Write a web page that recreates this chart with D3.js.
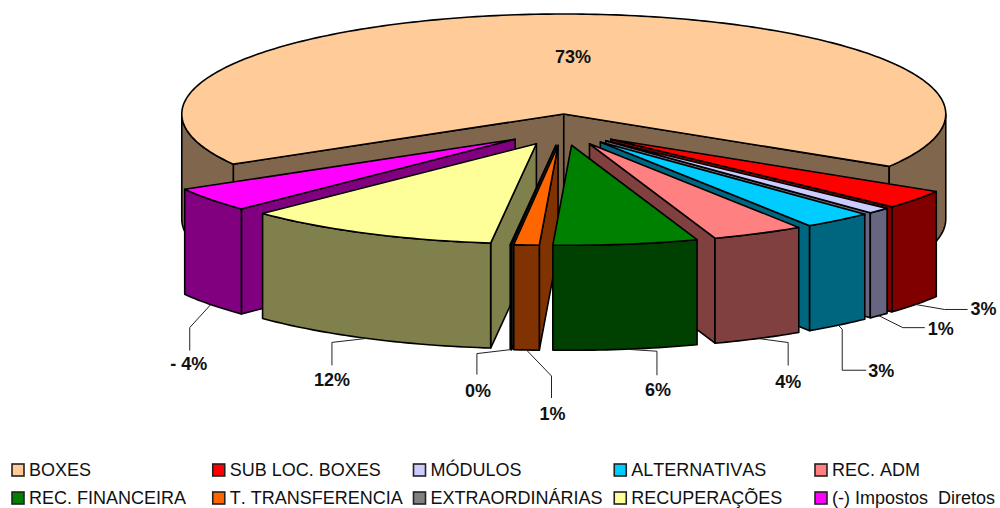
<!DOCTYPE html>
<html>
<head>
<meta charset="utf-8">
<script src="https://cdn.jsdelivr.net/npm/d3@7"></script>
<style>
  body { margin: 0; background: #fff; }
  text { font-family: "Liberation Sans", Arial, sans-serif; fill: #111; white-space: pre; font-kerning: none; }
</style>
</head>
<body>
<div id="chart"></div>
<script>
const categories = ["BOXES", "SUB LOC. BOXES", "MÓDULOS", "ALTERNATIVAS", "REC. ADM",
                    "REC. FINANCEIRA", "T. TRANSFERENCIA", "EXTRAORDINÁRIAS", "RECUPERAÇÕES", "(-) Impostos  Diretos"];
// share of the drawn pie
const shares = [67.14, 3.06, 1.0, 2.94, 3.9, 6.11, 1.07, 0.06, 10.81, 3.92];
const valueLabels = ["73%", "3%", "1%", "3%", "4%", "6%", "1%", "0%", "12%", "- 4%"];
const colors = ["#FFCC99", "#FF0000", "#CCCCFF", "#00CCFF", "#FF8080",
                "#008000", "#FF6600", "#808080", "#FFFF99", "#FF00FF"];

// back to front
const drawOrder = [0, 9, 8, 7, 6, 1, 2, 3, 4, 5];
// leader line bends and label centre, relative to the slice anchor
const leaderBends = [null,
  [[29, 5], [52, 5]], [[24, 12], [46, 12]], [[4, 4], [4, 45], [28, 45]], [[30, 4], [30, 27]],
  [[31, 2], [31, 26]], [[25, 26], [25, 48]], [[-34, 4], [-34, 25]], [[-35, 4], [-35, 27]], [[-21, 23], [-21, 46]]];
const labelOffsets = [null, [68, 5], [62, 13], [43, 46], [30, 43], [32, 41], [26, 64], [-33, 41], [-35, 42], [-22, 59]];

const width = 1000, height = 508;
const cx = 563, cy = 129.7, rx = 382, ry = 100, depth = 105, explode = 0.157;
const rad = Math.PI / 180;

const svg = d3.select("#chart").append("svg")
  .attr("width", width).attr("height", height).style("display", "block");

const xScale = d3.scaleLinear().domain([-1, 1]).range([cx - rx, cx + rx]);
const yScale = d3.scaleLinear().domain([-1, 1]).range([cy - ry, cy + ry]);

const startAngle = -120.1 * rad;
const arcs = d3.pie().sort(null).startAngle(startAngle).endAngle(startAngle + 2 * Math.PI)(shares);
const line = d3.line();

const midAngle = d => (d.startAngle + d.endAngle) / 2;
// point on the slice's top face, r = 1 is the rim
function point(d, a, r, z) {
  const m = midAngle(d);
  return [xScale(r * Math.sin(a) + explode * Math.sin(m)),
          yScale(-r * Math.cos(a) - explode * Math.cos(m)) + z];
}
function rim(d, a0, a1, z) {
  const n = Math.max(2, Math.ceil((a1 - a0) / rad));
  return d3.range(n + 1).map(i => point(d, a0 + (a1 - a0) * i / n, 1, z));
}
function sideColor(c) {
  const k = d3.rgb(c);
  return d3.rgb(k.r / 2, k.g / 2, k.b / 2).formatHex();
}
// parts of the rim that face the viewer
function frontRanges(d) {
  const out = [];
  [-1, 0, 1].forEach(k => {
    const lo = Math.max(d.startAngle, Math.PI / 2 + 2 * Math.PI * k);
    const hi = Math.min(d.endAngle, 3 * Math.PI / 2 + 2 * Math.PI * k);
    if (hi > lo) out.push([lo, hi]);
  });
  return out;
}

const slices = svg.selectAll("g.slice")
  .data(drawOrder.map(i => arcs[i]))
  .join("g")
  .attr("class", "slice")
  .attr("stroke", "#000")
  .attr("stroke-width", 1.6)
  .attr("stroke-linejoin", "round");

slices.each(function (d) {
  const g = d3.select(this);
  const side = sideColor(colors[d.index]);
  // cut faces, only the ones turned to the viewer
  [[d.startAngle, 1], [d.endAngle, -1]].forEach(([a, sign]) => {
    if (sign * Math.sin(a) >= 0) return;
    const face = [point(d, a, 0, 0), point(d, a, 1, 0), point(d, a, 1, depth), point(d, a, 0, depth)];
    g.append("path").attr("d", line(face) + "Z").attr("fill", side);
  });
  // outer wall
  frontRanges(d).forEach(([lo, hi]) => {
    const wall = rim(d, lo, hi, 0).concat(rim(d, lo, hi, depth).reverse());
    g.append("path").attr("d", line(wall) + "Z").attr("fill", side);
  });
  // top
  const top = [point(d, 0, 0, 0)].concat(rim(d, d.startAngle, d.endAngle, 0));
  g.append("path").attr("d", line(top) + "Z").attr("fill", colors[d.index]);
});

// leader lines and value labels
const anchors = arcs.map(d => point(d, midAngle(d), 1, depth));
svg.selectAll("path.leader")
  .data(arcs.filter(d => leaderBends[d.index]))
  .join("path")
  .attr("class", "leader")
  .attr("fill", "none")
  .attr("stroke", "#222")
  .attr("stroke-width", 1)
  .attr("d", d => {
    const a = anchors[d.index];
    return line([a].concat(leaderBends[d.index].map(b => [a[0] + b[0], a[1] + b[1]])));
  });

svg.selectAll("text.value")
  .data(arcs)
  .join("text")
  .attr("class", "value")
  .attr("text-anchor", "middle")
  .attr("dominant-baseline", "central")
  .attr("font-size", 18)
  .attr("font-weight", "bold")
  .attr("x", d => labelOffsets[d.index] ? anchors[d.index][0] + labelOffsets[d.index][0] : cx + 10)
  .attr("y", d => labelOffsets[d.index] ? anchors[d.index][1] + labelOffsets[d.index][1] : 57)
  .text((d, i) => valueLabels[i]);

// legend
const colScale = d3.scaleLinear().domain([0, 4]).range([12, 815]);
const rowScale = d3.scaleLinear().domain([0, 1]).range([464, 492]);
const legend = svg.selectAll("g.legend")
  .data(categories)
  .join("g")
  .attr("class", "legend")
  .attr("transform", (d, i) => `translate(${colScale(i % 5)},${rowScale(Math.floor(i / 5))})`);
legend.append("rect")
  .attr("width", 12).attr("height", 12)
  .attr("fill", (d, i) => colors[i])
  .attr("stroke", "#222").attr("stroke-width", 1.6);
legend.append("text")
  .attr("x", 17).attr("y", 12)
  .attr("font-size", 18)
  .text(d => d);
</script>
</body>
</html>
